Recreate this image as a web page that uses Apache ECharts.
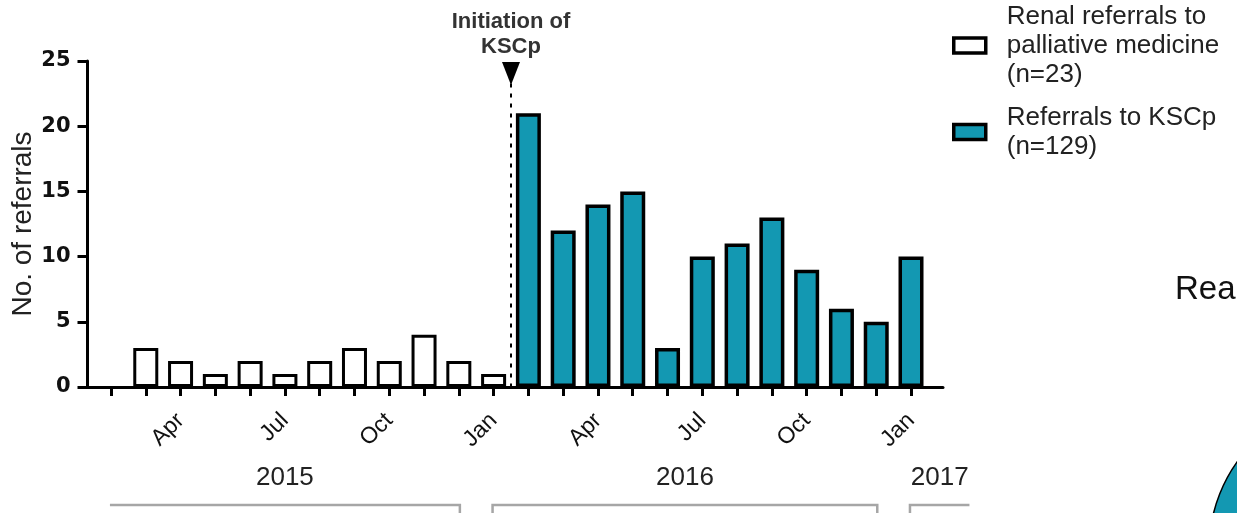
<!DOCTYPE html>
<html>
<head>
<meta charset="utf-8">
<script src="https://cdn.jsdelivr.net/npm/echarts@6/dist/echarts.min.js"></script>
<style>
  html, body { margin: 0; padding: 0; background: #fff; }
  #chart { width: 1237px; height: 513px; }
</style>
</head>
<body>
<div id="chart"></div>
<script>
// Monthly referral counts, Feb 2015 – Jan 2017
const months = [
  'Feb 2015', 'Mar 2015', 'Apr 2015', 'May 2015', 'Jun 2015', 'Jul 2015',
  'Aug 2015', 'Sep 2015', 'Oct 2015', 'Nov 2015', 'Dec 2015', 'Jan 2016',
  'Feb 2016', 'Mar 2016', 'Apr 2016', 'May 2016', 'Jun 2016', 'Jul 2016',
  'Aug 2016', 'Sep 2016', 'Oct 2016', 'Nov 2016', 'Dec 2016', 'Jan 2017'
];
const renalReferrals = [null, 3, 2, 1, 2, 1, 2, 3, 2, 4, 2, 1,
  null, null, null, null, null, null, null, null, null, null, null, null];
const kscpReferrals = [null, null, null, null, null, null, null, null, null, null, null, null,
  21, 12, 14, 15, 3, 10, 11, 13, 9, 6, 5, 10];
const labelledMonths = ['Apr', 'Jul', 'Oct', 'Jan'];
const initiationAfter = 'Jan 2016';
const yearSpans = [
  { year: '2015', from: 'Feb 2015', to: 'Dec 2015' },
  { year: '2016', from: 'Jan 2016', to: 'Dec 2016' },
  { year: '2017', from: 'Jan 2017', to: null }
];
const sidePanelSlices = [1];

const TEAL = '#1398b2';
const FONT = '"Liberation Sans", Arial, sans-serif';

// plot geometry (pixels)
const gridTop = 61, gridBottom = 126, W = 1237;
const axisLeft = 87.5, axisRight = 943;
const bandLeft = 93.6, bandRight = 928.4;
const band = (bandRight - bandLeft) / months.length;
const firstCenter = bandLeft + band / 2;
// value axis in "month index" units spanning the full axis line
const idxMin = (axisLeft - firstCenter) / band;
const idxMax = (axisRight - firstCenter) / band;
const initiationIdx = months.indexOf(initiationAfter) + 0.5;

const chart = echarts.init(document.getElementById('chart'));

chart.setOption({
  animation: false,
  textStyle: { fontFamily: FONT },
  title: {
    text: 'Rea',
    left: 1175, top: 273,
    padding: 0,
    textStyle: { fontSize: 33, fontWeight: 'normal', color: '#111', fontFamily: FONT }
  },
  legend: {
    orient: 'vertical',
    left: 952, top: 2,
    padding: 0,
    itemWidth: 32, itemHeight: 15, itemGap: 14,
    icon: 'rect',
    data: ['Renal referrals to\npalliative medicine\n(n=23)', 'Referrals to KSCp\n(n=129)'],
    itemStyle: { borderColor: '#000', borderWidth: 3.5 },
    textStyle: { fontSize: 26, lineHeight: 29, color: '#222', padding: [0, 0, 0, 16], fontFamily: FONT },
    selectedMode: false
  },
  grid: [
    { left: axisLeft, right: W - axisRight, top: gridTop, bottom: gridBottom,
      containLabel: false, outerBoundsMode: 'none' },
    { left: bandLeft, right: W - bandRight, top: gridTop, bottom: gridBottom,
      containLabel: false, outerBoundsMode: 'none' }
  ],
  xAxis: [
    {
      type: 'value', gridIndex: 0, min: idxMin, max: idxMax,
      axisLine: { show: true, onZero: false, lineStyle: { color: '#000', width: 3 } },
      axisTick: { show: false }, axisLabel: { show: false }, splitLine: { show: false }
    },
    {
      type: 'category', gridIndex: 1, data: months,
      axisLine: { show: false },
      axisTick: { show: true, alignWithLabel: true, interval: 0, length: 9,
                  lineStyle: { color: '#000', width: 3 } },
      axisLabel: {
        interval: (i, v) => labelledMonths.includes(v.split(' ')[0]),
        formatter: v => v.split(' ')[0],
        rotate: 45, margin: 30, fontSize: 23, color: '#111'
      },
      splitLine: { show: false }
    }
  ],
  yAxis: [
    {
      type: 'value', gridIndex: 0, min: 0, max: 25, interval: 5,
      name: 'No. of referrals', nameLocation: 'middle', nameGap: 50,
      nameMoveOverlap: false,
      nameTextStyle: { fontSize: 28, color: '#222' },
      axisLine: { show: true, onZero: false, lineStyle: { color: '#000', width: 3 } },
      axisTick: { show: true, length: 10, lineStyle: { color: '#000', width: 3 } },
      axisLabel: { fontSize: 21, fontWeight: 'bold', color: '#111', margin: 17,
                   fontFamily: '"DejaVu Sans", sans-serif' },
      splitLine: { show: false }
    },
    { type: 'value', gridIndex: 1, min: 0, max: 25, show: false }
  ],
  series: [
    {
      name: 'Renal referrals to\npalliative medicine\n(n=23)',
      type: 'bar', xAxisIndex: 1, yAxisIndex: 1,
      data: renalReferrals, barWidth: 25, barGap: '-100%',
      itemStyle: { color: '#fff', borderColor: '#000', borderWidth: 3 }
    },
    {
      name: 'Referrals to KSCp\n(n=129)',
      type: 'bar', xAxisIndex: 1, yAxisIndex: 1,
      data: kscpReferrals, barWidth: 25, barGap: '-100%',
      itemStyle: { color: TEAL, borderColor: '#000', borderWidth: 3.5 }
    },
    {
      type: 'line', xAxisIndex: 0, yAxisIndex: 0, data: [],
      markLine: {
        silent: true,
        symbol: ['triangle', 'none'],
        symbolSize: [18, 23],
        lineStyle: { color: '#000', width: 2, type: [4, 6] },
        label: {
          show: true, position: 'start', distance: 14,
          formatter: 'Initiation of\nKSCp',
          fontSize: 22, fontWeight: 'bold', color: '#333', lineHeight: 25
        },
        data: [[
          { coord: [initiationIdx, 24.05], symbolRotate: 180 },
          { coord: [initiationIdx, 0] }
        ]]
      }
    },
    {
      type: 'pie', silent: true,
      center: [1361, 550], radius: 152,
      label: { show: false }, labelLine: { show: false },
      itemStyle: { color: TEAL, borderColor: '#000', borderWidth: 1.5 },
      data: sidePanelSlices
    }
  ]
});

// Year captions and brackets below the month labels
const px = v => chart.convertToPixel({ xAxisIndex: 0 }, v);
const yearGraphics = [];
const bracketY = 505, textY = 478;
yearSpans.forEach(s => {
  const a = months.indexOf(s.from);
  const b = s.to ? months.indexOf(s.to) : a + 1.65;
  const x0 = px(a - 0.03), x1 = px(b + 0.03);
  const pts = [];
  if (s.year !== '2015') pts.push([x0, 520]);
  pts.push([x0, bracketY], [x1, bracketY]);
  if (s.to) pts.push([x1, 520]);
  yearGraphics.push({
    type: 'polyline', silent: true,
    shape: { points: pts },
    style: { stroke: '#a6a6a6', lineWidth: 2.5, fill: null }
  });
  yearGraphics.push({
    type: 'text', silent: true,
    style: {
      text: s.year, x: (x0 + x1) / 2, y: textY,
      align: 'center', verticalAlign: 'middle',
      font: '26px ' + FONT, fill: '#222'
    }
  });
});
chart.setOption({ graphic: yearGraphics });
</script>
</body>
</html>
